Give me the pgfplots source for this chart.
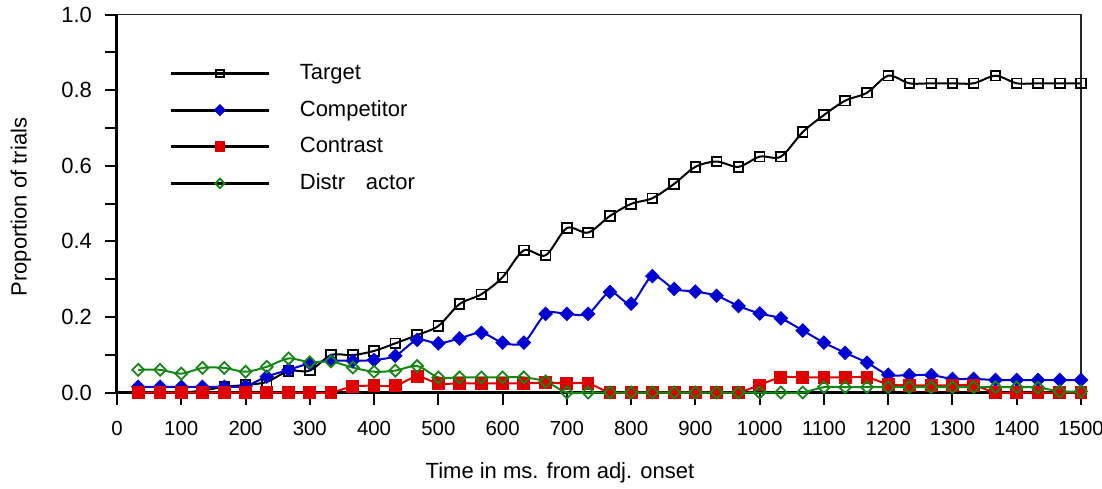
\documentclass[border=0pt]{standalone}
\usepackage{fontspec}
\setmainfont{Liberation Sans}
\usepackage{pgfplots}
\usepackage{pgfplotstable}
\pgfplotsset{compat=1.18}

\definecolor{compblue}{RGB}{0,0,210}
\definecolor{contred}{RGB}{222,0,0}
\definecolor{distgreen}{RGB}{20,135,20}

% Proportion of trials fixating each picture, by time from adjective onset (ms)
\pgfplotstableread{
t     target competitor contrast distractor
33    0.000  0.015      0.000    0.060
67    0.000  0.015      0.000    0.060
100   0.000  0.015      0.000    0.050
133   0.005  0.015      0.000    0.065
167   0.015  0.015      0.000    0.065
200   0.020  0.017      0.000    0.055
233   0.028  0.042      0.000    0.068
267   0.057  0.060      0.000    0.090
300   0.058  0.077      0.000    0.080
333   0.099  0.084      0.000    0.082
367   0.099  0.084      0.016    0.066
400   0.110  0.086      0.018    0.055
433   0.130  0.097      0.018    0.058
467   0.152  0.139      0.042    0.070
500   0.176  0.130      0.024    0.040
533   0.234  0.143      0.024    0.040
567   0.260  0.158      0.024    0.040
600   0.305  0.132      0.024    0.040
633   0.376  0.132      0.024    0.040
667   0.363  0.208      0.026    0.029
700   0.435  0.208      0.024    0.000
733   0.423  0.208      0.024    0.000
767   0.467  0.266      0.000    0.000
800   0.499  0.235      0.000    0.000
833   0.514  0.308      0.000    0.000
867   0.552  0.274      0.000    0.000
900   0.597  0.267      0.000    0.000
933   0.611  0.256      0.000    0.000
967   0.597  0.229      0.000    0.000
1000  0.624  0.209      0.020    0.000
1033  0.624  0.196      0.040    0.000
1067  0.689  0.164      0.040    0.000
1100  0.734  0.132      0.040    0.014
1133  0.772  0.105      0.040    0.014
1167  0.793  0.079      0.040    0.014
1200  0.838  0.047      0.022    0.014
1233  0.818  0.046      0.019    0.014
1267  0.818  0.046      0.019    0.014
1300  0.818  0.036      0.019    0.014
1333  0.818  0.036      0.019    0.014
1367  0.838  0.033      0.000    0.014
1400  0.818  0.033      0.000    0.014
1433  0.818  0.033      0.000    0.013
1467  0.818  0.033      0.000    0.003
1500  0.818  0.033      0.000    0.003
}\fixations

\begin{document}
\begin{tikzpicture}
\begin{axis}[
  scale only axis, width=482pt, height=189pt,
  at={(0pt,0pt)}, anchor=south west,
  xmin=0, xmax=1500, ymin=0, ymax=1,
  axis x line*=bottom, axis y line*=left,
  axis line style={-, line width=1.5pt, black},
  xtick={0,100,200,300,400,500,600,700,800,900,1000,1100,1200,1300,1400,1500},
  ytick={0,0.2,0.4,0.6,0.8,1.0},
  minor ytick={0.1,0.3,0.5,0.7,0.9},
  tick align=outside,
  major tick length=6pt, minor tick length=6pt,
  every tick/.style={line width=1pt, black},
  scaled ticks=false,
  /pgf/number format/assume math mode=true,
  xticklabel style={font=\fontsize{10.2}{12}\selectfont, yshift=-5pt,
    /pgf/number format/set thousands separator={}},
  yticklabel style={font=\fontsize{11}{13}\selectfont, xshift=-3pt,
    /pgf/number format/.cd, fixed, fixed zerofill, precision=1},
  label style={font=\fontsize{11}{13}\selectfont},
  xlabel={Time in ms. from adj. onset},
  ylabel={Proportion of trials},
  xlabel style={at={(axis description cs:0.4595,-0.213)}, anchor=center},
  ylabel style={at={(axis description cs:-0.0996,0.4907)}, anchor=center},
  clip=false,
  legend cell align=left,
  legend style={draw=none, fill=none, font=\fontsize{11}{13}\selectfont,
    at={(axis description cs:0.0477,0.89)}, anchor=north west,
    row sep=5pt},
  legend image code/.code={
    \draw[black, line width=1.5pt] (0pt,0pt) -- (49pt,0pt);
    \draw[#1, mark repeat=1, every mark/.append style={scale=0.8}]
      plot coordinates {(24.5pt,0pt)};
    \path[draw=none, fill=none] (0pt,0pt) -- (62.5pt,0pt);
  },
]
\addplot[black, line width=1pt, smooth, tension=0.5,
  mark=square, mark size=2.4pt, mark options={fill=white, line width=0.9pt}]
  table[x=t, y=target] {\fixations};
\addlegendentry{Target}
\addplot[compblue, line width=1pt, smooth, tension=0.5,
  mark=square*, mark size=2.1pt, mark options={rotate=45}]
  table[x=t, y=competitor] {\fixations};
\addlegendentry{Competitor}
\addplot[contred, line width=1pt, smooth, tension=0.5,
  mark=square*, mark size=2.7pt]
  table[x=t, y=contrast] {\fixations};
\addlegendentry{Contrast}
\addplot[distgreen, line width=1pt, smooth, tension=0.5,
  mark=square, mark size=2.1pt, mark options={rotate=45, fill=white, line width=0.9pt}]
  table[x=t, y=distractor] {\fixations};
\addlegendentry{Distr\hspace{0.95em}actor}
% thin frame along the top and right edges
\draw[line width=0.8pt, black!85] (rel axis cs:0,1) -- (rel axis cs:1,1) -- (rel axis cs:1,0);
\end{axis}
\pgfresetboundingbox
\useasboundingbox (-58.5pt,-47.75pt) rectangle (492.5pt,196.25pt);
\end{tikzpicture}
\end{document}
